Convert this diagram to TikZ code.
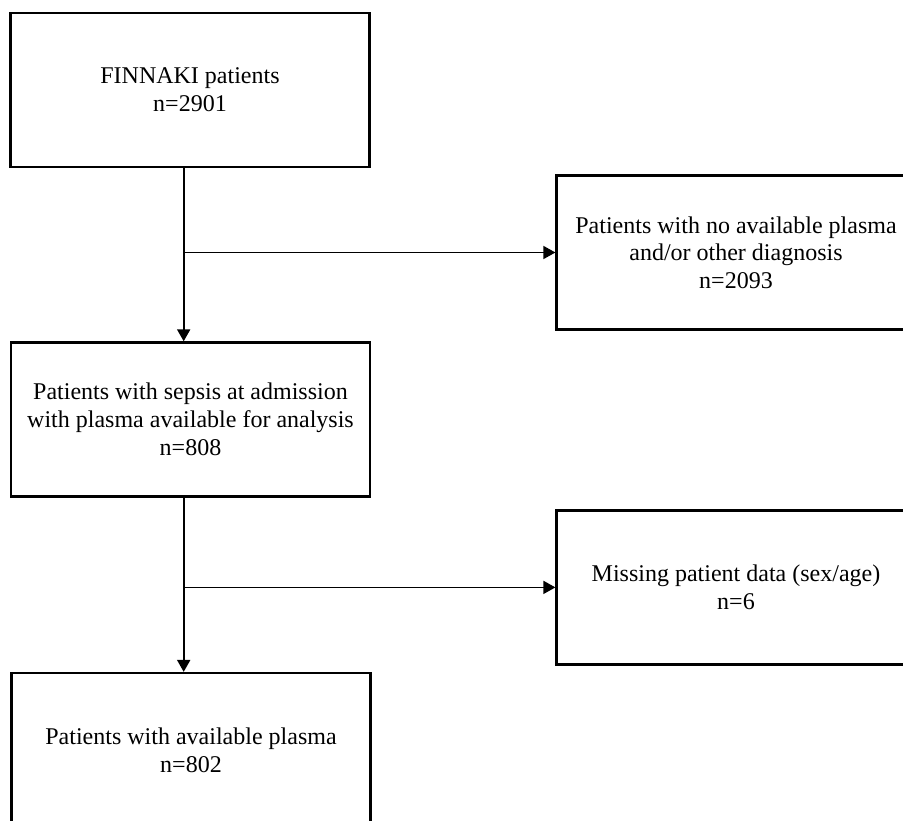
\documentclass[tikz,border=0pt]{standalone}
\usepackage{fontspec}
\setmainfont{Liberation Serif}
\usetikzlibrary{arrows.meta}

\begin{document}
\begin{tikzpicture}[
  x=1pt,
  y=-1pt,
  font=\fontsize{24}{27.7}\selectfont,
  box/.style={draw, line width=2.2pt, align=center, minimum width=359pt, minimum height=154pt, inner sep=0pt},
  arr/.style={-{Triangle[length=12pt,width=13pt]}, line width=2pt},
  branch/.style={arr, line width=1.5pt}
]

% Rajaus kuvan kokoon
\useasboundingbox (0,0) rectangle (903,821);
\clip (0,0) rectangle (903,821);

% Vasen sarake (potilasmäärät)
\node[box] (finnaki) at (190, 90)    {FINNAKI patients\\n=2901};
\node[box] (sepsis)  at (190.5, 419.4) {Patients with sepsis at admission\\with plasma available for analysis\\n=808};
\node[box] (final)   at (191, 750)   {Patients with available plasma\\n=802};

% Oikea sarake (poissulut)
\node[box] (noplasma) at (736, 252.5) {Patients with no available plasma\\and/or other diagnosis\\n=2093};
\node[box] (missing)  at (736, 587.4) {Missing patient data (sex/age)\\n=6};

% Poissulut oikealle
\draw[branch] ([xshift=-6.3pt]finnaki.south) |- (noplasma.west);
\draw[branch] ([xshift=-6.8pt]sepsis.south) |- (missing.west);

% Virtaus alaspäin
\draw[arr] ([xshift=-6.3pt]finnaki.south) -- ([xshift=-6.8pt]sepsis.north);
\draw[arr] ([xshift=-6.8pt]sepsis.south) -- ([xshift=-7.3pt]final.north);

\end{tikzpicture}
\end{document}
